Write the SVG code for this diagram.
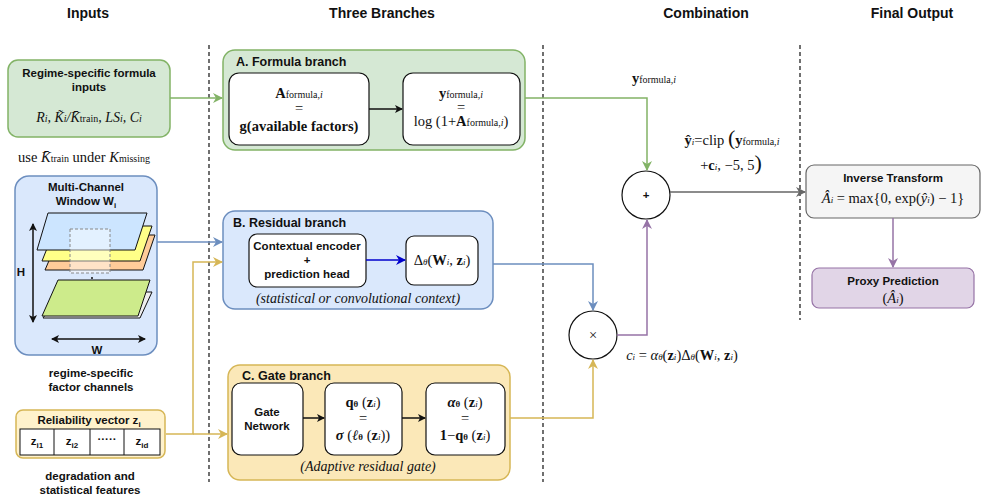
<svg xmlns="http://www.w3.org/2000/svg" width="988" height="500" viewBox="0 0 988 500">
<style>
.h{font-family:"Liberation Sans",Arial,sans-serif;font-weight:bold;font-size:14px;text-anchor:middle;fill:#111}
.b{font-family:"Liberation Sans",Arial,sans-serif;font-weight:bold;font-size:11.5px;text-anchor:middle;fill:#111}
.t{font-family:"Liberation Sans",Arial,sans-serif;font-weight:bold;font-size:12.5px;fill:#111}
.m{font-family:"Liberation Serif","Times New Roman",serif;font-size:14.5px;text-anchor:middle;fill:#111}
.mi{font-family:"Liberation Serif","Times New Roman",serif;font-size:14px;font-style:italic;text-anchor:middle;fill:#111}
.in{fill:#fff;stroke:#111;stroke-width:1.2}
.dash{stroke:#111;stroke-width:1.2;stroke-dasharray:4,3;fill:none}
.c{fill:none;stroke-width:1.5}
</style>
<defs>
<marker id="ak" markerWidth="8" markerHeight="8" refX="7" refY="4" orient="auto" markerUnits="userSpaceOnUse"><path d="M0,0 L8,4 L0,8 L2,4z" fill="#111"/></marker>
<marker id="ag" markerWidth="10" markerHeight="10" refX="9" refY="5" orient="auto" markerUnits="userSpaceOnUse"><path d="M0,0 L10,5 L0,10 L3,5z" fill="#82b366"/></marker>
<marker id="ab" markerWidth="10" markerHeight="10" refX="9" refY="5" orient="auto" markerUnits="userSpaceOnUse"><path d="M0,0 L10,5 L0,10 L3,5z" fill="#6c8ebf"/></marker>
<marker id="ay" markerWidth="10" markerHeight="10" refX="9" refY="5" orient="auto" markerUnits="userSpaceOnUse"><path d="M0,0 L10,5 L0,10 L3,5z" fill="#d6b656"/></marker>
<marker id="ap" markerWidth="10" markerHeight="10" refX="9" refY="5" orient="auto" markerUnits="userSpaceOnUse"><path d="M0,0 L10,5 L0,10 L3,5z" fill="#9673a6"/></marker>
<marker id="aq" markerWidth="10" markerHeight="10" refX="9" refY="5" orient="auto" markerUnits="userSpaceOnUse"><path d="M0,0 L10,5 L0,10 L3,5z" fill="#666"/></marker>
<marker id="an" markerWidth="10" markerHeight="10" refX="9" refY="5" orient="auto" markerUnits="userSpaceOnUse"><path d="M0,0 L10,5 L0,10 L3,5z" fill="#0000cc"/></marker>
<marker id="aa" markerWidth="8" markerHeight="8" refX="7" refY="4" orient="auto-start-reverse" markerUnits="userSpaceOnUse"><path d="M0,0 L8,4 L0,8 L2,4z" fill="#111"/></marker>
</defs>
<rect width="988" height="500" fill="#fff"/>
<text class="h" x="88" y="18">Inputs</text>
<text class="h" x="382" y="18">Three Branches</text>
<text class="h" x="706" y="18">Combination</text>
<text class="h" x="912" y="18">Final Output</text>
<line class="dash" x1="209" y1="45" x2="209" y2="482"/>
<line class="dash" x1="543" y1="45" x2="543" y2="482"/>
<line class="dash" x1="800" y1="45" x2="800" y2="320"/>

<g id="formula-inputs">
<rect x="8" y="60" width="162" height="77" rx="10" fill="#d5e8d4" stroke="#82b366" stroke-width="1.5"/>
<text class="b" x="89" y="77">Regime-specific formula</text>
<text class="b" x="89" y="91">inputs</text>
<text class="mi" x="89" y="122" font-size="15">R<tspan font-size="10">i</tspan>, K̃<tspan font-size="10">i</tspan>/K̄<tspan font-size="10" font-style="normal">train</tspan>, LS<tspan font-size="10">i</tspan>, C<tspan font-size="10">i</tspan></text>
</g>
<text class="m" x="84" y="162" font-size="14">use <tspan font-style="italic">K̄</tspan><tspan font-size="10">train</tspan> under <tspan font-style="italic">K</tspan><tspan font-size="10">missing</tspan></text>

<g id="window">
<rect x="15" y="176" width="142" height="179" rx="14" fill="#dae8fc" stroke="#6c8ebf" stroke-width="1.5"/>
<text class="b" x="86" y="191">Multi-Channel</text>
<text class="b" x="86" y="205">Window W<tspan font-size="8" dy="3">i</tspan></text>
<polygon points="60,235 155,235 143,270 45,270" fill="#ffcc99" stroke="#111"/>
<polygon points="56,226 152,226 140,261 42,261" fill="#ffff88" stroke="#111"/>
<polygon points="48,213 147,213 135,250 37,250" fill="#cce5ff" stroke="#111"/>
<rect x="70" y="229" width="40" height="44" fill="#fff" fill-opacity="0.45" stroke="#888" stroke-dasharray="3,2"/>
<circle cx="92" cy="278" r="1" fill="#111"/><circle cx="92" cy="284" r="1" fill="#111"/><circle cx="92" cy="290" r="1" fill="#111"/>
<polygon points="62,292 152,292 140,318 43,318" fill="#eeeeee" stroke="#111"/>
<polygon points="58,280 150,280 138,316 42,316" fill="#cdeb8b" stroke="#111"/>
<line x1="33" y1="224" x2="33" y2="322" stroke="#111" stroke-width="1.5" marker-start="url(#aa)" marker-end="url(#aa)"/>
<text class="b" x="21" y="276">H</text>
<line x1="52" y1="339" x2="145" y2="339" stroke="#111" stroke-width="1.5" marker-start="url(#aa)" marker-end="url(#aa)"/>
<text class="b" x="97" y="354">W</text>
</g>
<text class="b" x="91" y="377">regime-specific</text>
<text class="b" x="91" y="391">factor channels</text>

<g id="reliability">
<rect x="16" y="410" width="149" height="48" rx="7" fill="#fff2cc" stroke="#d6b656" stroke-width="1.5"/>
<text class="b" x="89" y="424">Reliability vector z<tspan font-size="8" dy="3">i</tspan></text>
<rect x="20" y="429" width="140" height="26" fill="#fff" stroke="#111"/>
<line x1="54" y1="429" x2="54" y2="455" stroke="#111"/><line x1="90" y1="429" x2="90" y2="455" stroke="#111"/><line x1="124" y1="429" x2="124" y2="455" stroke="#111"/>
<text class="b" x="37" y="445">z<tspan font-size="8" dy="3">i1</tspan></text>
<text class="b" x="72" y="445">z<tspan font-size="8" dy="3">i2</tspan></text>
<text class="b" x="107" y="443" font-weight="normal">·····</text>
<text class="b" x="142" y="445">z<tspan font-size="8" dy="3">id</tspan></text>
</g>
<text class="b" x="90" y="480">degradation and</text>
<text class="b" x="90" y="494">statistical features</text>

<g id="formula-branch">
<rect x="223" y="50" width="302" height="100" rx="12" fill="#d5e8d4" stroke="#82b366" stroke-width="1.5"/>
<text class="t" x="236" y="66">A. Formula branch</text>
<rect class="in" x="229" y="73" width="140" height="72" rx="10"/>
<text class="m" x="299" y="98" font-weight="bold">A<tspan font-weight="normal" font-size="10">formula,</tspan><tspan font-weight="normal" font-style="italic" font-size="10">i</tspan></text>
<text class="m" x="299" y="113">=</text>
<text class="m" x="299" y="131" font-weight="bold" font-size="15">g(available factors)</text>
<rect class="in" x="403" y="73" width="117" height="72" rx="10"/>
<text class="m" x="461" y="98" font-weight="bold">y<tspan font-weight="normal" font-size="10">formula,</tspan><tspan font-weight="normal" font-style="italic" font-size="10">i</tspan></text>
<text class="m" x="461" y="112">=</text>
<text class="m" x="461" y="126">log (1+<tspan font-weight="bold">A</tspan><tspan font-size="10">formula,</tspan><tspan font-style="italic" font-size="10">i</tspan>)</text>
</g>

<g id="residual-branch">
<rect x="223" y="211" width="270" height="98" rx="12" fill="#dae8fc" stroke="#6c8ebf" stroke-width="1.5"/>
<text class="t" x="233" y="227">B. Residual branch</text>
<rect class="in" x="249" y="234" width="117" height="53" rx="8"/>
<text class="b" x="307" y="250">Contextual encoder</text>
<text class="b" x="307" y="264">+</text>
<text class="b" x="307" y="278">prediction head</text>
<rect class="in" x="406" y="236" width="72" height="49" rx="8"/>
<text class="m" x="442" y="265">Δ<tspan font-style="italic" font-size="9">θ</tspan>(<tspan font-weight="bold">W</tspan><tspan font-style="italic" font-size="9">i</tspan>, <tspan font-weight="bold">z</tspan><tspan font-style="italic" font-size="9">i</tspan>)</text>
<text class="mi" x="358" y="303">(statistical or convolutional context)</text>
</g>

<g id="gate-branch">
<rect x="228" y="365" width="282" height="115" rx="12" fill="#fbe8b8" stroke="#d6b656" stroke-width="1.5"/>
<text class="t" x="242" y="380">C. Gate branch</text>
<rect class="in" x="232" y="383" width="71" height="72" rx="9"/>
<text class="b" x="267" y="416">Gate</text>
<text class="b" x="267" y="430">Network</text>
<rect class="in" x="325" y="383" width="77" height="72" rx="9"/>
<text class="m" x="363" y="407" font-weight="bold">q<tspan font-size="9">θ</tspan> <tspan font-weight="normal">(</tspan>z<tspan font-weight="normal" font-style="italic" font-size="9">i</tspan><tspan font-weight="normal">)</tspan></text>
<text class="m" x="363" y="423">=</text>
<text class="m" x="363" y="440"><tspan font-weight="bold" font-style="italic">σ</tspan> (<tspan font-weight="bold" font-style="italic">ℓ</tspan><tspan font-size="9" font-weight="bold">θ</tspan> (<tspan font-weight="bold">z</tspan><tspan font-style="italic" font-size="9">i</tspan>))</text>
<rect class="in" x="426" y="383" width="79" height="72" rx="9"/>
<text class="m" x="465" y="407" font-weight="bold"><tspan font-style="italic">α</tspan><tspan font-size="9">θ</tspan> <tspan font-weight="normal">(</tspan>z<tspan font-weight="normal" font-style="italic" font-size="9">i</tspan><tspan font-weight="normal">)</tspan></text>
<text class="m" x="465" y="423">=</text>
<text class="m" x="465" y="440"><tspan font-weight="bold">1</tspan>−<tspan font-weight="bold">q</tspan><tspan font-size="9" font-weight="bold">θ</tspan> (<tspan font-weight="bold">z</tspan><tspan font-style="italic" font-size="9">i</tspan>)</text>
<text class="mi" x="368" y="471">(Adaptive residual gate)</text>
</g>

<g id="plus"><circle cx="646" cy="195" r="24" fill="#fff" stroke="#111" stroke-width="1.2"/><text class="b" x="646" y="199">+</text></g>
<g id="times"><circle cx="593" cy="335" r="24" fill="#fff" stroke="#111" stroke-width="1.2"/><text class="m" x="593" y="340" fill="#555">×</text></g>

<g id="inverse">
<rect x="806" y="165" width="174" height="53" rx="8" fill="#f5f5f5" stroke="#666" stroke-width="1.2"/>
<text class="b" x="893" y="182">Inverse Transform</text>
<text class="m" x="893" y="203" fill="#444"><tspan font-style="italic">Â</tspan><tspan font-style="italic" font-size="9">i</tspan> = max{0, exp(<tspan font-style="italic">ŷ</tspan><tspan font-style="italic" font-size="9">i</tspan>) − 1}</text>
</g>
<g id="proxy">
<rect x="812" y="268" width="162" height="40" rx="7" fill="#e1d5e7" stroke="#9673a6" stroke-width="1.2"/>
<text class="b" x="893" y="285" fill="#333">Proxy Prediction</text>
<text class="m" x="893" y="303" fill="#444">(<tspan font-style="italic">Â</tspan><tspan font-style="italic" font-size="9">i</tspan>)</text>
</g>

<text class="m" x="654" y="83" font-weight="bold">y<tspan font-weight="normal" font-size="10">formula,</tspan><tspan font-weight="normal" font-style="italic" font-size="10">i</tspan></text>
<text class="m" x="732" y="145"><tspan font-weight="bold">ŷ</tspan><tspan font-style="italic" font-size="9">i</tspan>=clip <tspan font-size="22">(</tspan><tspan font-weight="bold">y</tspan><tspan font-size="10">formula,</tspan><tspan font-style="italic" font-size="10">i</tspan></text>
<text class="m" x="731" y="170">+<tspan font-weight="bold">c</tspan><tspan font-style="italic" font-size="9">i</tspan>, −5, 5<tspan font-size="22">)</tspan></text>
<text class="m" x="682" y="360"><tspan font-style="italic">c</tspan><tspan font-style="italic" font-size="9">i</tspan> = <tspan font-style="italic">α</tspan><tspan font-style="italic" font-size="9">θ</tspan>(<tspan font-weight="bold">z</tspan><tspan font-style="italic" font-size="9">i</tspan>)Δ<tspan font-style="italic" font-size="9">θ</tspan>(<tspan font-weight="bold">W</tspan><tspan font-style="italic" font-size="9">i</tspan>, <tspan font-weight="bold">z</tspan><tspan font-style="italic" font-size="9">i</tspan>)</text>

<g id="connectors">
<path class="c" d="M170,98 H222" stroke="#82b366" marker-end="url(#ag)"/>
<path class="c" d="M157,242 H222" stroke="#6c8ebf" marker-end="url(#ab)"/>
<path class="c" d="M166,434 H193 V262 H222" stroke="#d6b656" marker-end="url(#ay)"/>
<path class="c" d="M193,434 H227" stroke="#d6b656" marker-end="url(#ay)"/>
<path class="c" d="M369,109 H402" stroke="#111" marker-end="url(#ak)"/>
<path class="c" d="M366,260 H405" stroke="#0000cc" marker-end="url(#an)"/>
<path class="c" d="M303,418 H324" stroke="#111" marker-end="url(#ak)"/>
<path class="c" d="M402,418 H425" stroke="#111" marker-end="url(#ak)"/>
<path class="c" d="M525,98 H647 V170" stroke="#82b366" marker-end="url(#ag)"/>
<path class="c" d="M493,264 H593 V310" stroke="#6c8ebf" marker-end="url(#ab)"/>
<path class="c" d="M510,418 H593 V360" stroke="#d6b656" marker-end="url(#ay)"/>
<path class="c" d="M617,335 H647 V220" stroke="#9673a6" marker-end="url(#ap)"/>
<path class="c" d="M670,192 H805" stroke="#666" marker-end="url(#aq)"/>
<path class="c" d="M893,218 V267" stroke="#9673a6" marker-end="url(#ap)"/>
</g>
</svg>
